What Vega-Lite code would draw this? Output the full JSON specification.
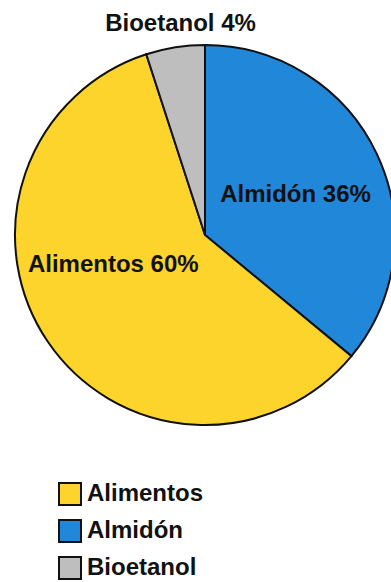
{
  "$schema": "https://vega.github.io/schema/vega-lite/v6.json",
  "width": 410,
  "height": 470,
  "padding": 0,
  "background": "white",
  "config": {"view": {"stroke": null}},
  "data": {"values": [
    {"cat": "Almidón", "valor": 36, "etiqueta": "Almidón 36%"},
    {"cat": "Alimentos", "valor": 59, "etiqueta": "Alimentos 60%"},
    {"cat": "Bioetanol", "valor": 5, "etiqueta": "Bioetanol 4%"}
  ]},
  "transform": [{"window": [{"op": "row_number", "as": "idx"}]}],
  "encoding": {
    "theta": {"field": "valor", "type": "quantitative", "stack": true},
    "order": {"field": "idx", "type": "quantitative"}
  },
  "layer": [
    {
      "mark": {"type": "arc", "radius": 190, "stroke": "#111", "strokeWidth": 2},
      "encoding": {
        "color": {
          "field": "cat",
          "type": "nominal",
          "scale": {"domain": ["Alimentos", "Almidón", "Bioetanol"], "range": ["#fcd42c", "#2187d9", "#bebebe"]},
          "legend": {
            "title": null,
            "orient": "none",
            "legendX": 58,
            "legendY": 482,
            "padding": 0,
            "symbolType": "square",
            "symbolSize": 484,
            "symbolStrokeColor": "#111",
            "symbolStrokeWidth": 2,
            "labelFont": "Liberation Sans",
            "labelFontWeight": "bold",
            "labelFontSize": 24,
            "labelColor": "#111",
            "rowPadding": 7,
            "labelOffset": 5
          }
        }
      }
    },
    {
      "mark": {
        "type": "text",
        "font": "Liberation Sans",
        "fontWeight": "bold",
        "fontSize": 24,
        "fill": "#111",
        "radius": {"expr": "datum.cat === 'Bioetanol' ? 214 : 100"},
        "dx": {"expr": "datum.cat === 'Bioetanol' ? 9 : (datum.cat === 'Alimentos' ? -9 : 0)"},
        "dy": {"expr": "datum.cat === 'Alimentos' ? -26 : (datum.cat === 'Almidón' ? 3 : 0)"}
      },
      "encoding": {"text": {"field": "etiqueta", "type": "nominal"}}
    }
  ]
}
